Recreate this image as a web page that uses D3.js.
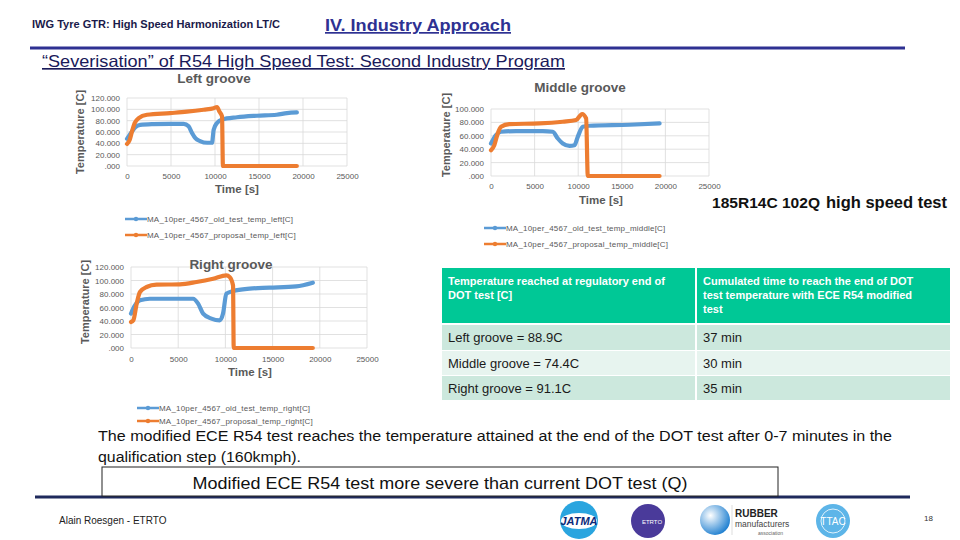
<!DOCTYPE html>
<html><head><meta charset="utf-8">
<script src="https://cdn.jsdelivr.net/npm/d3@7"></script>
<style>body{margin:0;background:#fff;} svg{display:block;font-family:"Liberation Sans",Arial,sans-serif;}</style>
</head><body><svg id="c" width="960" height="540"></svg>
<script>
// ---------- data ----------
const xTicks = [0, 5000, 10000, 15000, 20000, 25000];
const yTicks120 = [0, 20, 40, 60, 80, 100, 120];
const yTicks100 = [0, 20, 40, 60, 80, 100];

const leftOldTime = [0, 570, 950, 1500, 3000, 4900, 6440, 7000, 7400, 7770, 8300, 9100, 9660, 9850, 10230, 10800, 12500, 14770, 17000, 18180, 19300];
const leftOldTemp = [48, 61, 68.5, 72.7, 74, 74.5, 74.5, 70, 58, 49, 44, 41, 41, 64, 76, 82, 86, 88.7, 90.4, 93.4, 94.6];
const leftPropTime = [0, 300, 570, 870, 1330, 2270, 4900, 6800, 8700, 9850, 10230, 10500, 10800, 10900, 19300];
const leftPropTemp = [39, 46, 61, 75.7, 84.5, 90.4, 93.4, 95.8, 99.3, 102, 104, 96, 87.5, 0, 0];

const midOldTime = [0, 570, 1150, 2870, 5930, 7080, 7660, 8230, 9000, 9570, 9950, 10530, 11300, 15900, 19330];
const midOldTemp = [48.5, 61, 66, 67, 67, 66, 56, 48.5, 45, 46, 58.5, 73.5, 75, 76.5, 78.5];
const midPropTime = [0, 380, 770, 1150, 2100, 5550, 8230, 9760, 10450, 10910, 11100, 19330];
const midPropTemp = [38.5, 46, 63.5, 73.5, 77.5, 78.5, 81, 83.5, 92.5, 86, 0, 0];

const rightOldTime = [0, 420, 950, 2000, 4120, 6580, 7110, 7640, 8520, 9400, 9750, 10100, 10810, 12570, 14680, 17500, 19260];
const rightOldTemp = [51, 63, 70.6, 73, 73, 73, 65.7, 51, 43.5, 41, 51, 80.5, 84.4, 88, 89.4, 91.4, 96.8];
const rightPropTime = [0, 250, 600, 950, 1650, 2710, 5180, 6940, 8700, 10100, 10460, 10810, 10880, 19260];
const rightPropTemp = [38.5, 41, 65.7, 83, 90.4, 93.8, 94.3, 97.8, 102.7, 107.7, 105, 92.6, 0, 0];

const chartTitles = ["Left groove", "Middle groove", "Right groove"];
const legendLeft = ["MA_10per_4567_old_test_temp_left[C]", "MA_10per_4567_proposal_temp_left[C]"];
const legendMid = ["MA_10per_4567_old_test_temp_middle[C]", "MA_10per_4567_proposal_temp_middle[C]"];
const legendRight = ["MA_10per_4567_old_test_temp_right[C]", "MA_10per_4567_proposal_temp_right[C]"];

const tableHeaders = [["Temperature reached at regulatory end of", "DOT test [C]"],
                      ["Cumulated time to reach the end of DOT", "test temperature with ECE R54 modified", "test"]];
const tableGroove = ["Left groove = 88.9C", "Middle groove = 74.4C", "Right groove = 91.1C"];
const tableTime = ["37 min", "30 min", "35 min"];

// ---------- drawing ----------
const svg = d3.select("#c");
const BLUE = "#5b9bd5", ORANGE = "#ed7d31", GRAY = "#595959", GRID = "#d9d9d9", NAVY = "#2e3192";
const fmtY = v => v === 0 ? ".000" : d3.format(".3f")(v);

function drawChart(cfg) {
  const x = d3.scaleLinear().domain([0, 25000]).range([cfg.x0, cfg.x1]);
  const y = d3.scaleLinear().domain([0, cfg.ymax]).range([cfg.y0, cfg.y1]);
  const g = svg.append("g");
  g.selectAll(".vg").data(xTicks).enter().append("line")
    .attr("x1", d => x(d)).attr("x2", d => x(d)).attr("y1", y(cfg.ymax)).attr("y2", y(0))
    .attr("stroke", GRID).attr("stroke-width", 0.8);
  g.selectAll(".hg").data(cfg.yTicks).enter().append("line")
    .attr("x1", x(0)).attr("x2", x(25000)).attr("y1", d => y(d)).attr("y2", d => y(d))
    .attr("stroke", GRID).attr("stroke-width", 0.8);
  const ya = d3.axisLeft(y).tickValues(cfg.yTicks).tickFormat(fmtY).tickSize(0).tickPadding(7);
  const yg = g.append("g").attr("transform", `translate(${x(0)},0)`).call(ya);
  yg.select(".domain").remove();
  yg.selectAll("text").attr("fill", GRAY).style("font-size", "8px").style("font-family", "Liberation Sans, Arial");
  const xa = d3.axisBottom(x).tickValues(xTicks).tickFormat(d3.format("d")).tickSize(0).tickPadding(cfg.xPad);
  const xg = g.append("g").attr("transform", `translate(0,${y(0)})`).call(xa);
  xg.select(".domain").remove();
  xg.selectAll("text").attr("fill", GRAY).style("font-size", "8px").style("font-family", "Liberation Sans, Arial");
  const line = d3.line().x(d => x(d[0])).y(d => y(d[1])).curve(d3.curveMonotoneX);
  [[cfg.oldT, cfg.oldV, BLUE], [cfg.propT, cfg.propV, ORANGE]].forEach(([t, v, c]) => {
    g.append("path").datum(t.map((tt, i) => [tt, v[i]]))
      .attr("d", line).attr("fill", "none").attr("stroke", c)
      .attr("stroke-width", 4.2).attr("stroke-linejoin", "round").attr("stroke-linecap", "round");
  });
  g.append("text").attr("x", cfg.tx).attr("y", cfg.ty).attr("text-anchor", "middle")
    .attr("fill", GRAY).style("font-weight", "bold").style("font-size", "13.5px").text(cfg.title);
  g.append("text").attr("transform", `translate(${cfg.ylx},${cfg.yly}) rotate(-90)`)
    .attr("text-anchor", "middle").attr("fill", GRAY).style("font-weight", "bold").style("font-size", "11px")
    .text("Temperature [C]");
  g.append("text").attr("x", cfg.xlx).attr("y", cfg.xly).attr("text-anchor", "middle")
    .attr("fill", GRAY).style("font-weight", "bold").style("font-size", "11.5px").text("Time [s]");
  cfg.legend.forEach((name, i) => {
    const ly = cfg.ly + i * cfg.ldy, c = i === 0 ? BLUE : ORANGE;
    g.append("line").attr("x1", cfg.lx).attr("x2", cfg.lx + 22).attr("y1", ly).attr("y2", ly)
      .attr("stroke", c).attr("stroke-width", 2.5);
    g.append("circle").attr("cx", cfg.lx + 11).attr("cy", ly).attr("r", 2.2).attr("fill", c);
    g.append("text").attr("x", cfg.lx + 22).attr("y", ly + 3).attr("fill", GRAY)
      .style("font-size", "8px").style("letter-spacing", "0.2px").text(name);
  });
}

drawChart({x0: 127, x1: 347, y0: 166, y1: 98, ymax: 120, yTicks: yTicks120, xPad: 7,
  oldT: leftOldTime, oldV: leftOldTemp, propT: leftPropTime, propV: leftPropTemp,
  title: chartTitles[0], tx: 214, ty: 83, ylx: 84, yly: 132, xlx: 237, xly: 193,
  legend: legendLeft, lx: 125, ly: 219, ldy: 16});
drawChart({x0: 491, x1: 709, y0: 176, y1: 109, ymax: 100, yTicks: yTicks100, xPad: 7,
  oldT: midOldTime, oldV: midOldTemp, propT: midPropTime, propV: midPropTemp,
  title: chartTitles[1], tx: 580, ty: 92, ylx: 450, yly: 135, xlx: 601, xly: 204,
  legend: legendMid, lx: 484, ly: 228, ldy: 16});
drawChart({x0: 131, x1: 367, y0: 348, y1: 267, ymax: 120, yTicks: yTicks120, xPad: 8,
  oldT: rightOldTime, oldV: rightOldTemp, propT: rightPropTime, propV: rightPropTemp,
  title: chartTitles[2], tx: 231, ty: 269, ylx: 89, yly: 302, xlx: 250, xly: 376,
  legend: legendRight, lx: 137, ly: 408, ldy: 13});

// ---------- header ----------
svg.append("text").attr("x", 32).attr("y", 28).attr("fill", "#1a1a4a")
  .style("font-weight", "bold").style("font-size", "11px").attr("textLength", 248).attr("lengthAdjust", "spacingAndGlyphs")
  .text("IWG Tyre GTR: High Speed Harmonization LT/C");
svg.append("text").attr("x", 325).attr("y", 31).attr("fill", NAVY)
  .style("font-weight", "bold").style("font-size", "17px").style("text-decoration", "underline")
  .attr("textLength", 186).attr("lengthAdjust", "spacingAndGlyphs").text("IV. Industry Approach");
svg.append("line").attr("x1", 30).attr("x2", 905).attr("y1", 48).attr("y2", 48).attr("stroke", NAVY).attr("stroke-width", 3);
svg.append("text").attr("x", 42).attr("y", 67).attr("fill", "#1a1a5a")
  .style("font-size", "16.5px").style("text-decoration", "underline")
  .attr("textLength", 523).attr("lengthAdjust", "spacingAndGlyphs")
  .text("\u201CSeverisation\u201D of R54 High Speed Test: Second Industry Program");

// tyre label
const tl = svg.append("text").attr("x", 712).attr("y", 208).attr("fill", "#111").style("font-weight", "bold");
tl.append("tspan").style("font-size", "14px").attr("textLength", 108).attr("lengthAdjust", "spacingAndGlyphs").text("185R14C 102Q");
tl.append("tspan").attr("x", 826).style("font-size", "17px").attr("textLength", 121).attr("lengthAdjust", "spacingAndGlyphs").text("high speed test");

// ---------- table ----------
const colX = [442, 697], colW = [253, 253];
const rowY = [325, 351, 376], rowH = [25, 24, 24];
const rowFill = ["#cce8dd", "#e7f4ef", "#cce8dd"];
colX.forEach((cx, ci) => {
  svg.append("rect").attr("x", cx).attr("y", 268).attr("width", colW[ci]).attr("height", 55).attr("fill", "#00c896");
  tableHeaders[ci].forEach((t, li) => {
    svg.append("text").attr("x", cx + 6).attr("y", 285 + li * 14).attr("fill", "#fff")
      .style("font-weight", "bold").style("font-size", "11px").text(t);
  });
  rowY.forEach((ry, ri) => {
    svg.append("rect").attr("x", cx).attr("y", ry).attr("width", colW[ci]).attr("height", rowH[ri]).attr("fill", rowFill[ri]);
    svg.append("text").attr("x", cx + 6).attr("y", ry + rowH[ri] / 2 + 4.5).attr("fill", "#1a1a1a")
      .style("font-size", "13px").text(ci === 0 ? tableGroove[ri] : tableTime[ri]);
  });
});

// ---------- bottom text ----------
svg.append("text").attr("x", 98).attr("y", 441).attr("fill", "#111").style("font-size", "15.5px")
  .attr("textLength", 794).attr("lengthAdjust", "spacingAndGlyphs")
  .text("The modified ECE R54 test reaches the temperature attained at the end of the DOT test after 0-7  minutes in the");
svg.append("text").attr("x", 98).attr("y", 462).attr("fill", "#111").style("font-size", "15.5px")
  .attr("textLength", 203).attr("lengthAdjust", "spacingAndGlyphs")
  .text("qualification step (160kmph).");
svg.append("line").attr("x1", 35).attr("x2", 910).attr("y1", 497).attr("y2", 497).attr("stroke", "#1f2a5c").attr("stroke-width", 3);
svg.append("rect").attr("x", 102).attr("y", 467).attr("width", 676).attr("height", 29)
  .attr("fill", "#fff").attr("stroke", "#222").attr("stroke-width", 1);
svg.append("text").attr("x", 440).attr("y", 489).attr("text-anchor", "middle").attr("fill", "#111")
  .style("font-size", "16.5px").attr("textLength", 495).attr("lengthAdjust", "spacingAndGlyphs")
  .text("Modified ECE R54 test more severe than current DOT test (Q)");

// ---------- footer ----------
svg.append("text").attr("x", 59).attr("y", 524).attr("fill", "#222").style("font-size", "10px").text("Alain Roesgen - ETRTO");
svg.append("text").attr("x", 924).attr("y", 521).attr("fill", "#333").style("font-size", "8px").text("18");
const defs = svg.append("defs");
const rg = defs.append("radialGradient").attr("id", "sph").attr("cx", "35%").attr("cy", "35%").attr("r", "70%");
rg.append("stop").attr("offset", "0%").attr("stop-color", "#ffffff");
rg.append("stop").attr("offset", "100%").attr("stop-color", "#1e7fd0");
svg.append("circle").attr("cx", 579).attr("cy", 520).attr("r", 19).attr("fill", "#2aa5df");
svg.append("ellipse").attr("cx", 579).attr("cy", 521).attr("rx", 18).attr("ry", 8).attr("fill", "#fff");
svg.append("text").attr("x", 579).attr("y", 525).attr("text-anchor", "middle").attr("fill", "#0a2a7a")
  .style("font-weight", "bold").style("font-style", "italic").style("font-size", "11px").text("JATMA");
svg.append("circle").attr("cx", 648).attr("cy", 521).attr("r", 17).attr("fill", "#4a3a9a");
svg.append("text").attr("x", 652).attr("y", 524).attr("text-anchor", "middle").attr("fill", "#fff")
  .style("font-size", "6px").text("ETRTO");
svg.append("circle").attr("cx", 715).attr("cy", 520).attr("r", 15).attr("fill", "url(#sph)");
svg.append("line").attr("x1", 732).attr("x2", 732).attr("y1", 505).attr("y2", 535).attr("stroke", "#ddd");
svg.append("text").attr("x", 735).attr("y", 517).attr("fill", "#222").style("font-weight", "bold").style("font-size", "10px").text("RUBBER");
svg.append("text").attr("x", 735).attr("y", 527).attr("fill", "#444").style("font-size", "8.5px").text("manufacturers");
svg.append("text").attr("x", 758).attr("y", 535).attr("fill", "#666").style("font-size", "5px").text("association");
svg.append("circle").attr("cx", 833).attr("cy", 521).attr("r", 17).attr("fill", "#5db5e8");
svg.append("circle").attr("cx", 833).attr("cy", 521).attr("r", 12).attr("fill", "none").attr("stroke", "#fff").attr("stroke-width", 0.8);
svg.append("text").attr("x", 833).attr("y", 525).attr("text-anchor", "middle").attr("fill", "#fff")
  .style("font-size", "10px").text("TTAC");
</script></body></html>
